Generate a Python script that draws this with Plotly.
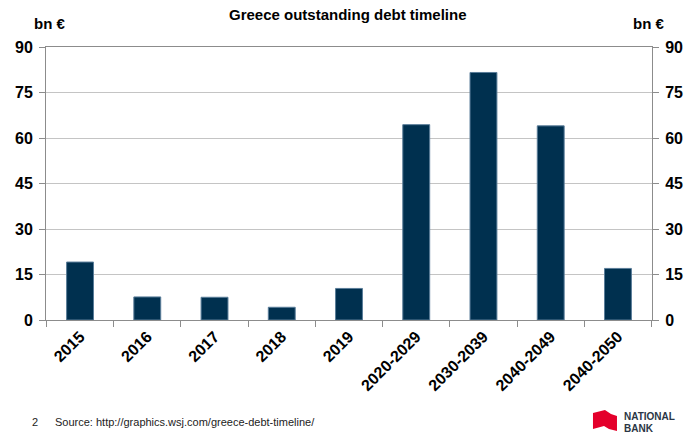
import plotly.graph_objects as go

categories = ["2015", "2016", "2017", "2018", "2019", "2020-2029", "2030-2039", "2040-2049", "2040-2050"]
values = [19.1, 7.6, 7.5, 4.2, 10.4, 64.4, 81.6, 64.0, 17.0]
y_ticks = [0, 15, 30, 45, 60, 75, 90]

FONT = "Liberation Sans, Arial, sans-serif"
BAR = "#00304f"
W, H = 688, 438
L, R, T, B = 46, 36, 47, 118
PW, PH = W - L - R, H - T - B


def px(x):
    return (x - L) / PW


def py(y):
    return (H - B - y) / PH


fig = go.Figure()
fig.add_trace(go.Bar(x=categories, y=values, marker=dict(color=BAR, line=dict(color="#5a7d99", width=1)),
                     width=0.4, showlegend=False, hoverinfo="x+y"))
fig.add_trace(go.Scatter(x=categories, y=values, yaxis="y2", mode="markers",
                         marker=dict(opacity=0), showlegend=False, hoverinfo="skip"))

axis_common = dict(range=[0, 90], tickvals=y_ticks, ticks="outside", ticklen=6, tickcolor="#8c8c8c",
                   showline=True, linecolor="#8c8c8c", linewidth=1, ticklabelstandoff=3, automargin=False,
                   tickfont=dict(family=FONT, size=16, color="#000000", weight="bold"))
fig.update_layout(
    width=W, height=H,
    margin=dict(l=L, r=R, t=T, b=B, autoexpand=False),
    paper_bgcolor="white", plot_bgcolor="white",
    xaxis=dict(type="category", tickangle=-45, showline=True, linecolor="#8c8c8c", automargin=False,
               tickfont=dict(family=FONT, size=16, color="#000000", weight="bold"), mirror=True,
               showgrid=False, ticks="outside", ticklen=6, tickcolor="#8c8c8c", tickson="boundaries"),
    yaxis=dict(**axis_common, showgrid=True, gridcolor="#c4c4c4", gridwidth=1, zeroline=False, side="left"),
    yaxis2=dict(**axis_common, overlaying="y", side="right", showgrid=False, zeroline=False),
    font=dict(family=FONT),
)

# title and unit labels
fig.add_annotation(text="<b>Greece outstanding debt timeline</b>", xref="paper", yref="paper",
                   x=px(348), y=py(15), xanchor="center", yanchor="middle", showarrow=False,
                   font=dict(family=FONT, size=15, color="#000"))
fig.add_annotation(text="<b>bn €</b>", xref="paper", yref="paper", x=px(49), y=py(23),
                   xanchor="center", yanchor="middle", showarrow=False, font=dict(family=FONT, size=15, color="#000"))
fig.add_annotation(text="<b>bn €</b>", xref="paper", yref="paper", x=px(648), y=py(23),
                   xanchor="center", yanchor="middle", showarrow=False, font=dict(family=FONT, size=15, color="#000"))

# footer
fig.add_annotation(text="2", xref="paper", yref="paper", x=px(34.5), y=py(422), xanchor="center",
                   yanchor="middle", showarrow=False, font=dict(family=FONT, size=11, color="#222"))
fig.add_annotation(text="Source: http://graphics.wsj.com/greece-debt-timeline/", xref="paper", yref="paper",
                   x=px(53), y=py(422), xanchor="left", yanchor="middle", showarrow=False,
                   font=dict(family=FONT, size=11, color="#222"))

# logo
flag = [(593, 413), (605, 410), (611, 414), (617, 416), (617, 431), (609, 429), (604, 426), (593, 429)]
path = "M " + " L ".join(f"{px(a):.4f},{py(b):.4f}" for a, b in flag) + " Z"
fig.add_shape(type="path", xref="paper", yref="paper", layer="above", path=path,
              fillcolor="#e4002b", line=dict(width=0))
fig.add_annotation(text="<b>NATIONAL</b>", xref="paper", yref="paper", x=px(622), y=py(416.5),
                   xanchor="left", yanchor="middle", showarrow=False,
                   font=dict(family=FONT, size=10, color="#2b3645"))
fig.add_annotation(text="<b>BANK</b>", xref="paper", yref="paper", x=px(622), y=py(428),
                   xanchor="left", yanchor="middle", showarrow=False,
                   font=dict(family=FONT, size=10, color="#2b3645"))

fig.write_html("out.html")
